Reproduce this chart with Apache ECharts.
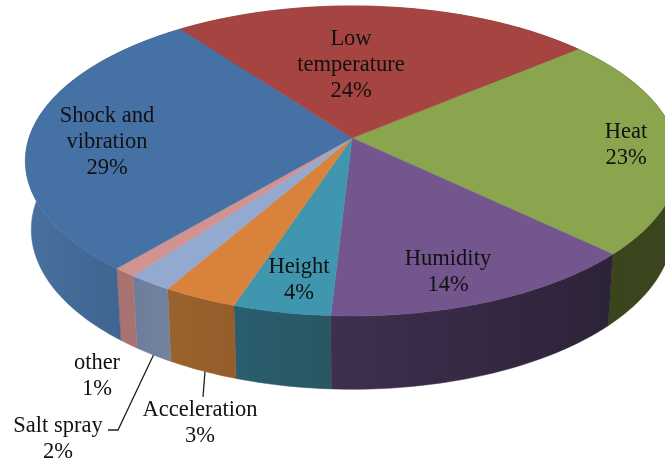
<!DOCTYPE html>
<html>
<head>
<meta charset="utf-8">
<style>
html, body { margin: 0; padding: 0; background: #fff; }
#container { width: 665px; height: 463px; }
</style>
<script src="https://cdn.jsdelivr.net/npm/echarts@6/dist/echarts.min.js"></script>
</head>
<body>
<div id="container"></div>
<script>
// data, clockwise starting from the Heat slice
var categories = ['Heat', 'Humidity', 'Height', 'Acceleration', 'Salt spray', 'other', 'Shock and\nvibration', 'Low\ntemperature'];
var shares = [23.2, 13.8, 4.2, 3.2, 1.9, 1.0, 28.7, 24.0];

// colours
var topColors = ['#8aa54e', '#73568d', '#4096ae', '#d9823c', '#93a9cf', '#d09392', '#4671a5', '#a64442'];
var wallColors = [
    ['#39431c', '#3b451e'],
    ['#3f2f4f', '#2d2338'],
    ['#2a5e6e', '#285663'],
    ['#9a622c', '#945d2a'],
    ['#6d7d9c', '#73829f'],
    ['#a8716f', '#a87371'],
    ['#47719f', '#3a5c86'],
    ['#6b2b2a', '#6b2b2a']
];

// label centres and leader lines, in pixels
var labelCenters = [[626, 145], [448, 272], [299, 280], [200, 423], [58, 439], [97, 376], [107, 142], [351, 65]];
var leaders = { 3: { at: 0.46, path: [[203, 397]] }, 4: { at: 0.5, path: [[118, 430], [108, 430]] } };

// pie geometry: a tilted disc seen in perspective
var startAngle = 50;
var apex = [352, 138];
var radiusX = 323, radiusY = 151.6, persp = 0.148;
var wallScaleX = 0.982, wallScaleY = 1.03, wallDrop = 68;

var total = shares.reduce(function (a, b) { return a + b; }, 0);
var edges = [startAngle];
shares.forEach(function (v, i) {
    edges.push(edges[i] + v / total * 360);
});

function rimPoint(deg, bottom) {
    var r = deg * Math.PI / 180;
    var x = Math.sin(r), y = -Math.cos(r);
    var w = 1 - persp * y;
    var dx = radiusX * x / w, dy = radiusY * y / w;
    if (bottom) {
        return [apex[0] + dx * wallScaleX, apex[1] + dy * wallScaleY + wallDrop];
    }
    return [apex[0] + dx, apex[1] + dy];
}

function arc(from, to, bottom) {
    var pts = [];
    var n = Math.max(2, Math.ceil(Math.abs(to - from)));
    for (var i = 0; i <= n; i++) {
        pts.push(rimPoint(from + (to - from) * i / n, bottom));
    }
    return pts;
}

function renderWall(params) {
    var i = params.dataIndex;
    var pts = arc(edges[i], edges[i + 1], false).concat(arc(edges[i + 1], edges[i], true));
    var fill = new echarts.graphic.LinearGradient(0, 0, 1, 0, [
        { offset: 0, color: wallColors[i][0] },
        { offset: 1, color: wallColors[i][1] }
    ]);
    return {
        type: 'polygon',
        shape: { points: pts },
        style: { fill: fill, stroke: fill, lineWidth: 0.5 }
    };
}

function renderTop(params) {
    var i = params.dataIndex;
    var pts = [apex].concat(arc(edges[i], edges[i + 1], false));
    return {
        type: 'polygon',
        shape: { points: pts },
        style: { fill: topColors[i], stroke: topColors[i], lineWidth: 0.5 }
    };
}

function renderLabel(params) {
    var i = params.dataIndex;
    var children = [{
        type: 'text',
        style: {
            text: categories[i] + '\n' + Math.round(shares[i]) + '%',
            x: labelCenters[i][0],
            y: labelCenters[i][1],
            align: 'center',
            verticalAlign: 'middle',
            fontFamily: '"Liberation Serif"',
            fontSize: 22.5,
            lineHeight: 26,
            fill: '#111'
        }
    }];
    var leader = leaders[i];
    if (leader) {
        var from = rimPoint(edges[i] + (edges[i + 1] - edges[i]) * leader.at, true);
        children.push({
            type: 'polyline',
            shape: { points: [from].concat(leader.path) },
            style: { stroke: '#222', lineWidth: 1.3, fill: null }
        });
    }
    return { type: 'group', children: children };
}

var dom = document.getElementById('container');
var myChart = echarts.init(dom, null, {
    renderer: 'canvas',
    useDirtyRect: false
});

var option = {
    backgroundColor: '#fff',
    animation: false,
    series: [
        { type: 'custom', coordinateSystem: 'none', z: 1, data: shares, renderItem: renderWall },
        { type: 'custom', coordinateSystem: 'none', z: 2, data: shares, renderItem: renderTop },
        { type: 'custom', coordinateSystem: 'none', z: 3, data: shares, renderItem: renderLabel }
    ]
};

myChart.setOption(option);

window.addEventListener('resize', myChart.resize);
</script>
</body>
</html>
